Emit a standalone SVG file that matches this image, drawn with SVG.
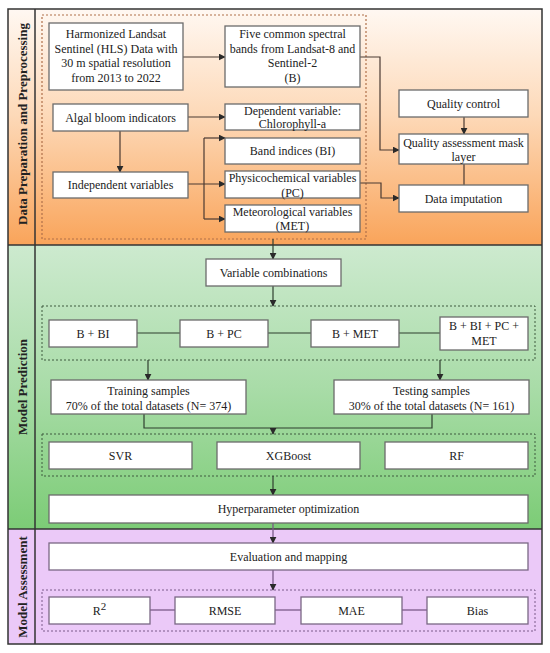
<svg xmlns="http://www.w3.org/2000/svg" width="550" height="653" viewBox="0 0 550 653">
<defs>
<linearGradient id="gOr" x1="0" y1="0" x2="0" y2="1">
<stop offset="0" stop-color="#fff8f2"/>
<stop offset="0.45" stop-color="#fdd9b8"/>
<stop offset="1" stop-color="#f9a45a"/>
</linearGradient>
<linearGradient id="gGr" x1="0" y1="0" x2="0" y2="1">
<stop offset="0" stop-color="#cdeacf"/>
<stop offset="0.5" stop-color="#a9dca8"/>
<stop offset="1" stop-color="#7ccc76"/>
</linearGradient>
<marker id="ah" viewBox="0 0 10 10" refX="9" refY="5" markerWidth="7" markerHeight="7" orient="auto" markerUnits="userSpaceOnUse">
<path d="M0,0 L10,5 L0,10 z" fill="#2a2a2a"/>
</marker>
<style>
.box{fill:#ffffff;stroke:#6b6b6b;stroke-width:1.3}
.boxP{fill:#ffffff;stroke:#7a6884;stroke-width:1.3}
.t{font-family:"Liberation Serif","Times New Roman",serif;font-size:12px;fill:#222;text-anchor:middle}
.lab{font-family:"Liberation Serif","Times New Roman",serif;font-size:13px;font-weight:bold;fill:#222;text-anchor:middle}
.dotO{fill:none;stroke:#b0704a;stroke-width:1.2;stroke-dasharray:2,2}
.dotG{fill:none;stroke:#3e5a3e;stroke-width:1;stroke-dasharray:2,2}
.dotP{fill:none;stroke:#7a5a8a;stroke-width:1;stroke-dasharray:2,2}
.c{fill:none;stroke:#4a3a32;stroke-width:1.2}
.cg{fill:none;stroke:#2f3f2f;stroke-width:1.2}
.cp{fill:none;stroke:#7a5a88;stroke-width:1.3}
.arr{marker-end:url(#ah)}
</style>
</defs>

<g id="background">
<rect x="8" y="9" width="534" height="236" fill="url(#gOr)"/>
<rect x="8" y="245" width="534" height="284" fill="url(#gGr)"/>
<rect x="8" y="529" width="534" height="115" fill="#ebc9f8"/>
<rect x="8" y="9" width="534" height="635" fill="none" stroke="#333" stroke-width="1.5"/>
<line x1="8" y1="245" x2="542" y2="245" stroke="#333" stroke-width="1.5"/>
<line x1="8" y1="529" x2="542" y2="529" stroke="#333" stroke-width="1.5"/>
<line x1="35" y1="9" x2="35" y2="644" stroke="#333" stroke-width="1.5"/>
<rect class="dotO" x="42" y="15" width="324" height="224"/>
<rect class="dotG" x="42" y="306" width="493" height="54"/>
<rect class="dotG" x="42" y="434" width="493" height="42"/>
<rect class="dotP" x="42" y="590" width="493" height="41"/>
</g>

<g id="labels">
<text class="lab" transform="translate(22,124) rotate(-90)" dy="4.5">Data Preparation and Preprocessing</text>
<text class="lab" transform="translate(22,387) rotate(-90)" dy="4.5">Model Prediction</text>
<text class="lab" transform="translate(22,587) rotate(-90)" dy="4.5">Model Assessment</text>
</g>

<g id="connectors">
<line class="c arr" x1="183" y1="57" x2="225" y2="57"/>
<polyline class="c arr" points="360,57 380,57 380,150 399,150"/>
<line class="c arr" x1="464" y1="117" x2="464" y2="134"/>
<line class="c" x1="464" y1="164" x2="464" y2="185"/>
<polyline class="c arr" points="360,183 381,183 381,198 399,198"/>
<line class="c arr" x1="188" y1="117" x2="225" y2="117"/>
<line class="c arr" x1="120" y1="131" x2="120" y2="172"/>
<line class="c arr" x1="188" y1="184" x2="225" y2="184"/>
<line class="c" x1="204" y1="138" x2="204" y2="219"/>
<line class="c arr" x1="204" y1="138" x2="225" y2="138"/>
<line class="c arr" x1="204" y1="219" x2="225" y2="219"/>
<line class="cg arr" x1="273" y1="239" x2="273" y2="259"/>
<line class="cg arr" x1="273" y1="286" x2="273" y2="306"/>
<line class="cg" x1="137" y1="333" x2="180" y2="333"/>
<line class="cg" x1="268" y1="333" x2="311" y2="333"/>
<line class="cg" x1="399" y1="333" x2="440" y2="333"/>
<line class="cg arr" x1="148" y1="360" x2="148" y2="380"/>
<line class="cg arr" x1="440" y1="360" x2="440" y2="380"/>
<polyline class="cg" points="144,414 144,428 432,428 432,414"/>
<line class="cg arr" x1="273" y1="428" x2="273" y2="434"/>
<line class="cg arr" x1="273" y1="476" x2="273" y2="495"/>
<line class="cp arr" x1="273" y1="523" x2="273" y2="543"/>
<line class="cp arr" x1="273" y1="570" x2="273" y2="590"/>
<line class="cp" x1="150" y1="610" x2="175" y2="610"/>
<line class="cp" x1="275" y1="610" x2="301" y2="610"/>
<line class="cp" x1="402" y1="610" x2="427" y2="610"/>
</g>

<g id="n-hls">
<rect class="box" x="49" y="23" width="134" height="67"/>
<text class="t" x="116" y="38">Harmonized Landsat</text>
<text class="t" x="116" y="52.5">Sentinel (HLS) Data with</text>
<text class="t" x="116" y="67">30 m spatial resolution</text>
<text class="t" x="116" y="81.5">from 2013 to 2022</text>
</g>
<g id="n-bands">
<rect class="box" x="225" y="26" width="135" height="61"/>
<text class="t" x="292.5" y="38">Five common spectral</text>
<text class="t" x="292.5" y="52.5">bands from Landsat-8 and</text>
<text class="t" x="292.5" y="67">Sentinel-2</text>
<text class="t" x="292.5" y="81.5">(B)</text>
</g>
<g id="n-algal">
<rect class="box" x="53" y="104" width="135" height="27"/>
<text class="t" x="120.5" y="121.5">Algal bloom indicators</text>
</g>
<g id="n-dependent">
<rect class="box" x="225" y="104" width="135" height="26"/>
<text class="t" x="292.5" y="114.5">Dependent variable:</text>
<text class="t" x="292.5" y="128">Chlorophyll-a</text>
</g>
<g id="n-bi">
<rect class="box" x="225" y="138" width="135" height="26"/>
<text class="t" x="292.5" y="155">Band indices (BI)</text>
</g>
<g id="n-independent">
<rect class="box" x="53" y="172" width="135" height="26"/>
<text class="t" x="120.5" y="188.5">Independent variables</text>
</g>
<g id="n-pc">
<rect class="box" x="225" y="171" width="135" height="27"/>
<text class="t" x="292.5" y="182">Physicochemical variables</text>
<text class="t" x="292.5" y="196.5">(PC)</text>
</g>
<g id="n-met">
<rect class="box" x="225" y="205" width="135" height="27"/>
<text class="t" x="292.5" y="215.5">Meteorological variables</text>
<text class="t" x="292.5" y="230">(MET)</text>
</g>
<g id="n-qc">
<rect class="box" x="399" y="90" width="129" height="27"/>
<text class="t" x="463.5" y="107.5">Quality control</text>
</g>
<g id="n-qa">
<rect class="box" x="399" y="134" width="129" height="30"/>
<text class="t" x="463.5" y="147">Quality assessment mask</text>
<text class="t" x="463.5" y="161">layer</text>
</g>
<g id="n-imputation">
<rect class="box" x="399" y="185" width="129" height="27"/>
<text class="t" x="463.5" y="203">Data imputation</text>
</g>

<g id="n-varcomb">
<rect class="box" x="206" y="259" width="135" height="27"/>
<text class="t" x="273.5" y="277">Variable combinations</text>
</g>
<g id="n-bbi">
<rect class="box" x="49" y="320" width="88" height="27"/>
<text class="t" x="93" y="337.5">B + BI</text>
</g>
<g id="n-bpc">
<rect class="box" x="180" y="320" width="88" height="27"/>
<text class="t" x="224" y="337.5">B + PC</text>
</g>
<g id="n-bmet">
<rect class="box" x="311" y="320" width="88" height="27"/>
<text class="t" x="355" y="337.5">B + MET</text>
</g>
<g id="n-ball">
<rect class="box" x="440" y="317" width="88" height="33"/>
<text class="t" x="484" y="330">B + BI + PC +</text>
<text class="t" x="484" y="344.5">MET</text>
</g>
<g id="n-training">
<rect class="box" x="51" y="380" width="195" height="34"/>
<text class="t" x="148.5" y="395">Training samples</text>
<text class="t" x="148.5" y="410">70% of the total datasets (N= 374)</text>
</g>
<g id="n-testing">
<rect class="box" x="334" y="380" width="195" height="34"/>
<text class="t" x="431.5" y="395">Testing samples</text>
<text class="t" x="431.5" y="410">30% of the total datasets (N= 161)</text>
</g>
<g id="n-svr">
<rect class="box" x="49" y="442" width="143" height="27"/>
<text class="t" x="120.5" y="459.5">SVR</text>
</g>
<g id="n-xgb">
<rect class="box" x="217" y="442" width="143" height="27"/>
<text class="t" x="288.5" y="459.5">XGBoost</text>
</g>
<g id="n-rf">
<rect class="box" x="385" y="442" width="143" height="27"/>
<text class="t" x="456.5" y="459.5">RF</text>
</g>
<g id="n-hyper">
<rect class="box" x="49" y="495" width="479" height="28"/>
<text class="t" x="288.5" y="513">Hyperparameter optimization</text>
</g>

<g id="n-eval">
<rect class="boxP" x="49" y="543" width="479" height="27"/>
<text class="t" x="288.5" y="561">Evaluation and mapping</text>
</g>
<g id="n-r2">
<rect class="boxP" x="49" y="597" width="101" height="27"/>
<text class="t" x="99.5" y="615">R<tspan dy="-5" font-size="11">2</tspan></text>
</g>
<g id="n-rmse">
<rect class="boxP" x="175" y="597" width="100" height="27"/>
<text class="t" x="225" y="615">RMSE</text>
</g>
<g id="n-mae">
<rect class="boxP" x="301" y="597" width="101" height="27"/>
<text class="t" x="351.5" y="615">MAE</text>
</g>
<g id="n-bias">
<rect class="boxP" x="427" y="597" width="101" height="27"/>
<text class="t" x="477.5" y="615">Bias</text>
</g>
</svg>
